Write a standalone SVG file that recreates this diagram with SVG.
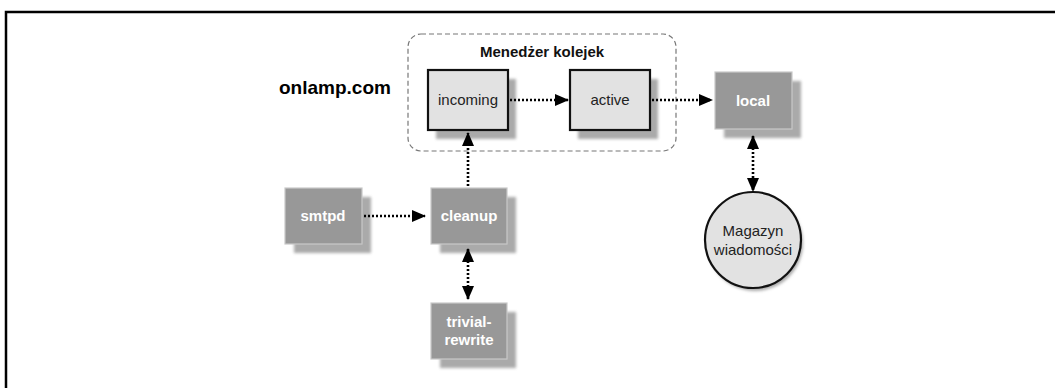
<svg xmlns="http://www.w3.org/2000/svg" width="1055" height="388" viewBox="0 0 1055 388">
<defs>
<filter id="blur" x="-20%" y="-20%" width="140%" height="140%"><feGaussianBlur stdDeviation="1.5"/></filter>
<marker id="ah" markerUnits="userSpaceOnUse" markerWidth="14" markerHeight="12" refX="13" refY="6" orient="auto-start-reverse">
<path d="M0,0 L14,6 L0,12 Z" fill="#000"/>
</marker>
</defs>
<style>
.frame{fill:none;stroke:#000;stroke-width:2.5}
.grp{fill:none;stroke:#777;stroke-width:1.2;stroke-dasharray:5 3}
.shadow{fill:#aaa;filter:url(#blur)}
.light{fill:#e2e2e2;stroke:#111;stroke-width:2.2}
.dark{fill:#989898;stroke:#c8c8c8;stroke-width:1.2}
.conn{fill:none;stroke:#000;stroke-width:2.6;stroke-dasharray:2 2}
text{font-family:"Liberation Sans",Arial,sans-serif;text-anchor:middle}
.lt{font-size:15px;fill:#222}
.dt{font-size:15px;font-weight:bold;fill:#fff}
.title{font-size:19px;font-weight:bold;fill:#000;text-anchor:start}
.gt{font-size:15px;font-weight:bold;fill:#111}
</style>
<rect width="1055" height="388" fill="#fff"/>
<path class="frame" d="M6,388 V12 H1055"/>
<text class="title" x="279" y="94">onlamp.com</text>
<g id="queue-manager">
<rect class="grp" x="408" y="34" width="268" height="117" rx="13"/>
<text class="gt" x="542" y="57">Menedżer kolejek</text>
</g>
<g id="incoming">
<rect class="shadow" x="436" y="79" width="80" height="60"/>
<rect class="light" x="428" y="70" width="80" height="60"/>
<text class="lt" x="468" y="105">incoming</text>
</g>
<g id="active">
<rect class="shadow" x="578" y="79" width="80" height="60"/>
<rect class="light" x="570" y="70" width="80" height="60"/>
<text class="lt" x="610" y="105">active</text>
</g>
<g id="local">
<rect class="shadow" x="724" y="81" width="77" height="57"/>
<rect class="dark" x="715" y="72" width="77" height="57"/>
<text class="dt" x="753" y="106">local</text>
</g>
<g id="magazyn">
<circle cx="755" cy="243" r="48" fill="#aaa" filter="url(#blur)"/>
<circle cx="753" cy="240" r="48" fill="#e2e2e2" stroke="#111" stroke-width="2.2"/>
<text class="lt" x="753" y="236">Magazyn</text>
<text class="lt" x="753" y="255">wiadomości</text>
</g>
<g id="smtpd">
<rect class="shadow" x="294" y="197" width="77" height="56"/>
<rect class="dark" x="285" y="188" width="77" height="56"/>
<text class="dt" x="323" y="221">smtpd</text>
</g>
<g id="cleanup">
<rect class="shadow" x="440" y="197" width="76" height="56"/>
<rect class="dark" x="431" y="188" width="76" height="56"/>
<text class="dt" x="469" y="221">cleanup</text>
</g>
<g id="trivial-rewrite">
<rect class="shadow" x="440" y="312" width="76" height="56"/>
<rect class="dark" x="431" y="303" width="76" height="56"/>
<text class="dt" x="469" y="327">trivial-</text>
<text class="dt" x="469" y="345">rewrite</text>
</g>
<g id="connectors">
<line class="conn" x1="510" y1="100" x2="568" y2="100" marker-end="url(#ah)"/>
<line class="conn" x1="652" y1="100" x2="712" y2="100" marker-end="url(#ah)"/>
<line class="conn" x1="753" y1="136" x2="753" y2="191" marker-start="url(#ah)" marker-end="url(#ah)"/>
<line class="conn" x1="364" y1="216" x2="425" y2="216" marker-end="url(#ah)"/>
<line class="conn" x1="468" y1="186" x2="468" y2="133" marker-end="url(#ah)"/>
<line class="conn" x1="468" y1="249" x2="468" y2="299" marker-start="url(#ah)" marker-end="url(#ah)"/>
</g>
</svg>
